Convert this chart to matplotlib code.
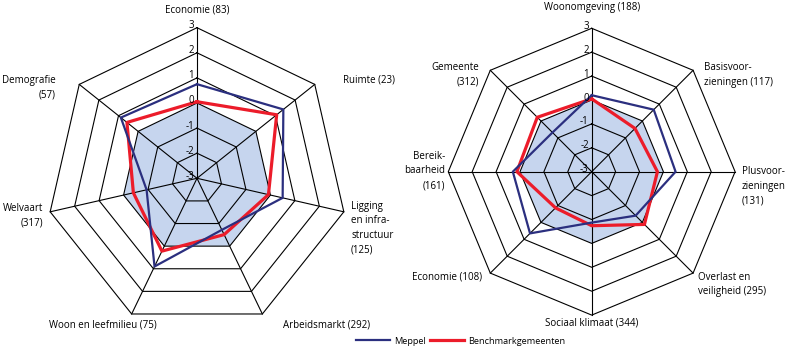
import numpy as np
import matplotlib.pyplot as plt

plt.rcParams['font.family'] = ['Open Sans', 'DejaVu Sans']

# Linker web: 7 thema's (waarde -3 .. 3)
links_labels = ["Economie (83)", "Ruimte (23)", "Ligging\nen infra-\nstructuur\n(125)",
                "Arbeidsmarkt (292)", "Woon en leefmilieu (75)", "Welvaart\n(317)",
                "Demografie\n(57)"]
links_meppel = [0.75, 1.4, 0.5, -0.72, 0.9, -0.94, 0.88]
links_bench = [0.05, 1.06, -0.08, -0.51, 0.22, -0.4, 0.57]

# Rechter web: 8 thema's
rechts_labels = ["Woonomgeving (188)", "Basisvoor-\nzieningen (117)", "Plusvoor-\nzieningen\n(131)",
                 "Overlast en\nveiligheid (295)", "Sociaal klimaat (344)", "Economie (108)",
                 "Bereik-\nbaarheid\n(161)", "Gemeente\n(312)"]
rechts_meppel = [0.2, 0.67, 0.51, -0.4, -0.87, 0.65, 0.3, -0.68]
rechts_bench = [0.05, -0.44, -0.25, 0.12, -0.74, -0.86, 0.13, 0.22]

ticks = [-3, -2, -1, 0, 1, 2, 3]

blauw = "#2b2f7f"
rood = "#ec1c2a"
vlak = "#c6d5ee"

# label posities (in eenheden vanaf het midden) en uitlijning
links_pos = [(0, 6.7, "center"), (5.82, 3.92, "left"), (6.14, -1.98, "left"),
             (5.18, -5.86, "center"), (-3.75, -5.86, "center"), (-6.12, -1.5, "right"),
             (-5.62, 3.62, "right")]
rechts_pos = [(0, 6.88, "center"), (4.7, 4.05, "left"), (6.28, -0.6, "left"),
              (4.43, -4.72, "left"), (0, -6.35, "center"), (-4.6, -4.41, "right"),
              (-6.14, 0.03, "right"), (-4.72, 4.05, "right")]


def xy(waarden, n):
    hoek = np.arange(n) * 2 * np.pi / n
    r = np.array(waarden, dtype=float) + 3
    x = r * np.sin(hoek)
    y = r * np.cos(hoek)
    return np.append(x, x[0]), np.append(y, y[0])


def web(ax, labels, meppel, bench, posities):
    n = len(labels)
    # blauw vlak tot 0
    fx, fy = xy([0] * n, n)
    ax.fill(fx, fy, color=vlak, zorder=1, lw=0)
    # ringen
    for t in ticks[1:]:
        gx, gy = xy([t] * n, n)
        ax.plot(gx, gy, color="black", lw=0.8, zorder=2)
    # spaken
    ox, oy = xy([3] * n, n)
    for i in range(n):
        ax.plot([0, ox[i]], [0, oy[i]], color="black", lw=0.8, zorder=2)
    # tick labels
    for t in ticks:
        ax.text(-0.12, t + 3 + 0.08, str(t), ha="right", va="center", fontsize=7, zorder=5)
    mx, my = xy(meppel, n)
    bx, by = xy(bench, n)
    l1, = ax.plot(mx, my, color=blauw, lw=1.6, zorder=4, label="Meppel")
    l2, = ax.plot(bx, by, color=rood, lw=2.3, zorder=3, label="Benchmarkgemeenten")
    for lab, (px, py, ha) in zip(labels, posities):
        ax.text(px, py, lab, ha=ha, va="center", fontsize=7, linespacing=1.45, multialignment=ha)
    ax.set_xlim(-7, 7)
    ax.set_ylim(-7, 7)
    ax.set_aspect("equal")
    ax.axis("off")
    return l1, l2


W, H = 790, 350
fig = plt.figure(figsize=(7.9, 3.5), dpi=100)

# links: midden (197, 178.3) px, 25.1 px per eenheid
s = 25.1 * 7
ax1 = fig.add_axes([(197 - s) / W, (H - 178.3 - s) / H, 2 * s / W, 2 * s / H])
# rechts: midden (591.7, 171.7) px, 23.9 px per eenheid
s = 23.9 * 7
ax2 = fig.add_axes([(591.7 - s) / W, (H - 171.7 - s) / H, 2 * s / W, 2 * s / H])

h = web(ax1, links_labels, links_meppel, links_bench, links_pos)
web(ax2, rechts_labels, rechts_meppel, rechts_bench, rechts_pos)

fig.legend(h, [x.get_label() for x in h], loc="center", bbox_to_anchor=(461 / W, 1 - 341 / H),
           ncol=2, frameon=False, fontsize=6.6, handlelength=3.7, handletextpad=0.45,
           columnspacing=0.45)

fig.savefig("out.png", dpi=100)
